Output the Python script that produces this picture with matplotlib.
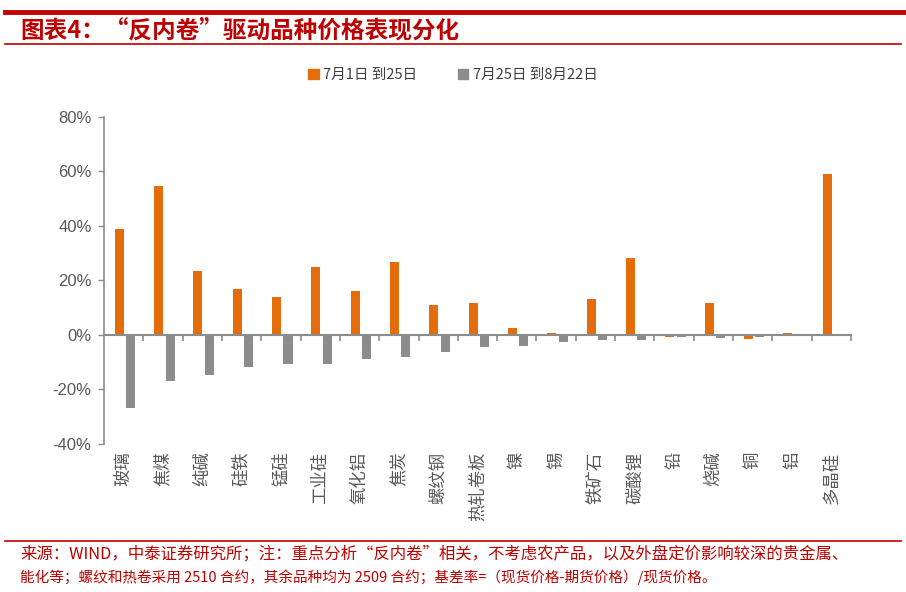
import matplotlib
matplotlib.use('Agg')
import matplotlib.pyplot as plt
from matplotlib.patches import Patch
from matplotlib.ticker import FuncFormatter, FixedLocator
import numpy as np

plt.rcParams['font.family'] = ['Liberation Sans', 'Noto Sans CJK SC', 'DejaVu Sans']

categories = ['玻璃', '焦煤', '纯碱', '硅铁', '锰硅', '工业硅', '氧化铝', '焦炭', '螺纹钢',
              '热轧卷板', '镍', '锡', '铁矿石', '碳酸锂', '铅', '烧碱', '铜', '铝', '多晶硅']
jul_1_25 = [38.9, 54.5, 23.5, 17.0, 13.9, 25.1, 16.3, 26.9, 11.0,
            11.7, 2.7, 0.7, 13.1, 28.1, -0.9, 11.6, -1.4, 0.9, 59.1]
jul25_aug22 = [-26.8, -16.8, -14.8, -11.9, -10.6, -10.5, -8.9, -8.0, -6.4,
               -4.4, -4.1, -2.5, -1.8, -1.8, -0.9, -1.0, -0.7, -0.4, 0.5]
series_names = ['7月1日 到25日', '7月25日 到8月22日']

orange = '#E46C0A'
grey = '#8C8C8C'
red = '#C00000'
axis_grey = '#8C8C8C'
text_grey = '#595959'

fig = plt.figure(figsize=(9.06, 5.92), dpi=100)
ax = fig.add_axes([0.1148, 0.25, 0.8245, 0.5524])

x = np.arange(len(categories))
w = 0.23
ax.bar(x - 0.11, jul_1_25, w, color=orange)
ax.bar(x + 0.18, jul25_aug22, w, color=grey)

ax.set_xlim(-0.5, len(categories) - 0.5)
ax.set_ylim(-40, 80)
ax.set_yticks(np.arange(-40, 81, 20))
ax.yaxis.set_major_formatter(FuncFormatter(lambda v, p: f'{v:.0f}%'))
ax.tick_params(axis='y', colors=axis_grey, labelcolor=text_grey, labelsize=12,
               length=4, width=1, direction='out', pad=5)

for s in ['top', 'right']:
    ax.spines[s].set_visible(False)
ax.spines['left'].set_color(axis_grey)
ax.spines['left'].set_linewidth(1.2)
ax.spines['bottom'].set_position(('data', 0))
ax.spines['bottom'].set_color(axis_grey)
ax.spines['bottom'].set_linewidth(1.5)

ax.set_xticks(x)
ax.set_xticklabels(categories, rotation=90, family=['Noto Sans CJK SC'])
ax.xaxis.set_minor_locator(FixedLocator(np.arange(0.5, len(categories), 1.0)))
ax.tick_params(axis='x', which='major', length=0, pad=84, labelsize=12.5, labelcolor=text_grey)
ax.tick_params(axis='x', which='minor', length=4, width=1.2, color=axis_grey, direction='out')

handles = [Patch(color=orange), Patch(color=grey)]
fig.legend(handles, series_names, loc='center', bbox_to_anchor=(0.5, 0.873), ncol=2,
           frameon=False, handlelength=0.7, handleheight=0.7, handletextpad=0.3,
           columnspacing=2.8, prop={'family': 'Noto Sans CJK SC', 'size': 10.5},
           labelcolor='#404040')

# header and footer decoration
fig.add_artist(plt.Line2D([0.006, 1.0], [0.979, 0.979], color=red, lw=3.5))
fig.add_artist(plt.Line2D([0.006, 0.995], [0.925, 0.925], color=red, lw=1.2))
fig.add_artist(plt.Line2D([0.006, 0.995], [0.086, 0.086], color=red, lw=1.2))

fig.text(0.022, 0.949, '图表4：“反内卷”驱动品种价格表现分化', color=red, fontsize=17,
         fontweight='bold', family=['Noto Sans CJK SC'], va='center', ha='left')

footer1 = '来源：WIND，中泰证券研究所；注：重点分析“反内卷”相关，不考虑农产品，以及外盘定价影响较深的贵金属、'
footer2 = '能化等；螺纹和热卷采用 2510 合约，其余品种均为 2509 合约；基差率=（现货价格-期货价格）/现货价格。'
fig.text(0.022, 0.062, footer1, color=red, fontsize=11.8, va='center', ha='left',
         family=['Noto Sans CJK SC'])
fig.text(0.022, 0.025, footer2, color=red, fontsize=10.5, va='center', ha='left',
         family=['Noto Sans CJK SC'])

fig.savefig('out.png', dpi=100)
